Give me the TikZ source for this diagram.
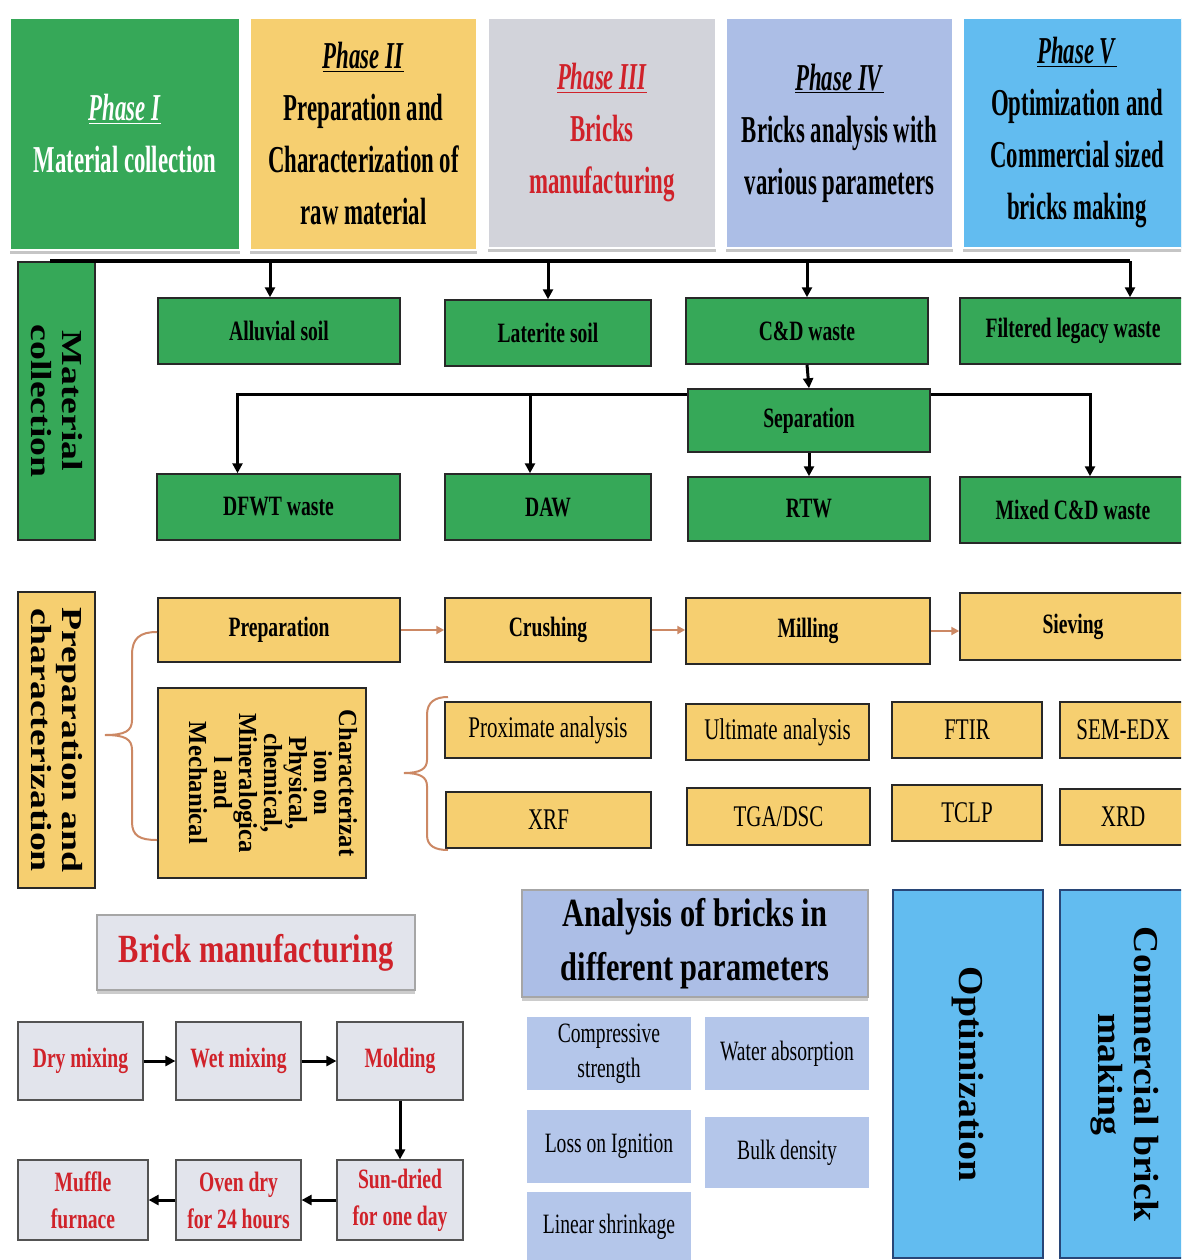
\documentclass[tikz,border=0pt]{standalone}
\usepackage{fontspec}
\setmainfont{Liberation Serif}
\newfontfamily\fntA[FakeStretch=0.6]{Liberation Serif}
\newfontfamily\fntB[FakeStretch=0.7]{Liberation Serif}
\newfontfamily\fntC[FakeStretch=0.76]{Liberation Serif}
\newfontfamily\rotA[FakeStretch=1.3]{Liberation Serif}
\newfontfamily\rotB[FakeStretch=1.08]{Liberation Serif}
\newfontfamily\rotC[FakeStretch=0.95]{Liberation Serif}
\usetikzlibrary{arrows.meta,shadows}
\definecolor{cGreen}{RGB}{54,168,88}
\definecolor{cYellow}{RGB}{246,207,112}
\definecolor{cGrey}{RGB}{210,211,218}
\definecolor{cLav}{RGB}{172,190,230}
\definecolor{cPar}{RGB}{180,198,234}
\definecolor{cSky}{RGB}{98,188,240}
\definecolor{cBrick}{RGB}{226,228,236}
\definecolor{cRed}{RGB}{208,34,42}
\definecolor{cEdge}{RGB}{40,40,40}
\definecolor{cOrange}{RGB}{204,136,100}
\definecolor{cDeep}{RGB}{40,70,120}
\tikzset{
 boxbase/.style={rectangle, inner sep=0pt, align=center},
 phase/.style={boxbase, draw=white, line width=2pt,
   drop shadow={shadow xshift=0pt, shadow yshift=-4pt, opacity=0.45},
   font=\fntA\bfseries\fontsize{38}{52}\selectfont},
 sidebox/.style={boxbase, rotate=-90, draw=cEdge, line width=1.2pt,
   font=\rotA\bfseries\fontsize{29}{31}\selectfont},
 gbox/.style={boxbase, fill=cGreen, draw=cEdge, line width=1.5pt,
   font=\fntB\bfseries\fontsize{28}{32}\selectfont},
 ybox/.style={boxbase, fill=cYellow, draw=cEdge, line width=1.5pt,
   font=\fntB\bfseries\fontsize{28}{32}\selectfont},
 yreg/.style={boxbase, fill=cYellow, draw=cEdge, line width=1.5pt,
   font=\fntB\fontsize{30}{34}\selectfont},
 brickbox/.style={boxbase, fill=cBrick, draw=cEdge!80, line width=1.2pt, text=cRed,
   font=\fntB\bfseries\fontsize{28}{37}\selectfont},
 parbox/.style={boxbase, fill=cPar,
   font=\fntB\fontsize{28}{35}\selectfont},
 bigv/.style={boxbase, rotate=-90, fill=cSky, draw=cDeep, line width=1.5pt,
   font=\rotB\bfseries\fontsize{35}{36}\selectfont},
 bline/.style={line width=3.5pt, black},
 barrow/.style={line width=3pt, black, -{Triangle[length=10pt,width=10pt]}},
 oarrow/.style={line width=2pt, cOrange, -{Triangle[length=8pt,width=8pt]}},
 bracestyle/.style={line width=2pt, cOrange},
}
\begin{document}
\begin{tikzpicture}[x=1pt,y=-1pt]
\clip (0,0) rectangle (1181,1260);
\fill[white] (0,0) rectangle (1181,1260);

% ---------------- Phase header boxes ----------------
\node[phase, fill=cGreen, text=white, minimum width=230, minimum height=232] (ph1) at (125,134)
  {\underline{\textit{Phase I}}\\Material collection};
\node[phase, fill=cYellow, minimum width=227, minimum height=232] (ph2) at (363.5,134)
  {\underline{\textit{Phase II}}\\Preparation and\\Characterization of\\raw material};
\node[phase, fill=cGrey, text=cRed, minimum width=228, minimum height=230] (ph3) at (602,133)
  {\underline{\textit{Phase III}}\\Bricks\\manufacturing};
\node[phase, fill=cLav, minimum width=227, minimum height=230] (ph4) at (839.5,133)
  {\underline{\textit{Phase IV}}\\Bricks analysis with\\various parameters};
\node[phase, fill=cSky, minimum width=228, minimum height=230] (ph5) at (1077,133)
  {\underline{\textit{Phase V}}\\Optimization and\\Commercial sized\\bricks making};

% ---------------- Material collection ----------------
\node[sidebox, fill=cGreen, minimum width=278, minimum height=77] (mc) at (56.5,401)
  {Material\\collection};

\node[gbox, minimum width=242, minimum height=66] (alluvial) at (279,331) {Alluvial soil};
\node[gbox, minimum width=206, minimum height=66] (laterite) at (548,333) {Laterite soil};
\node[gbox, minimum width=242, minimum height=66] (cdw) at (807,331) {C\&D waste};
\node[gbox, minimum width=226, minimum height=66] (filtered) at (1073,331) {Filtered legacy waste};
\node[gbox, minimum width=242, minimum height=63] (sep) at (809,420.5) {Separation};
\node[gbox, minimum width=243, minimum height=66] (dfwt) at (278.5,507) {DFWT waste};
\node[gbox, minimum width=206, minimum height=66] (daw) at (548,507) {DAW};
\node[gbox, minimum width=242, minimum height=64] (rtw) at (809,509) {RTW};
\node[gbox, minimum width=226, minimum height=66] (mixed) at (1073,510) {Mixed C\&D waste};

\coordinate (busL) at (50,261);
\coordinate (busR) at (1130,261);
\draw[bline] (busL) -- (busR);
\draw[barrow] ([xshift=-9pt]alluvial.north |- busL) -- ([xshift=-9pt]alluvial.north);
\draw[barrow] (laterite.north |- busL) -- (laterite.north);
\draw[barrow] (cdw.north |- busL) -- (cdw.north);
\draw[barrow] (busR) -- (busR |- filtered.north);
\draw[barrow] (cdw.south) -- (sep.north);
\coordinate (sbL) at ([yshift=-6pt]sep.north west);
\coordinate (sbR) at ([yshift=-6pt]sep.north east);
\draw[barrow] (sbL) -| ([xshift=-41pt]dfwt.north);
\draw[barrow] ([xshift=-18pt]daw.north |- sbL) -- ([xshift=-18pt]daw.north);
\draw[barrow] (sbR) -| ([xshift=17pt]mixed.north);
\draw[barrow] (sep.south) -- (rtw.north);

% ---------------- Preparation and characterization ----------------
\node[sidebox, fill=cYellow, minimum width=296, minimum height=77] (pc) at (56.5,740)
  {Preparation and\\characterization};

\node[ybox, minimum width=242, minimum height=64] (prep) at (279,630) {Preparation};
\node[ybox, minimum width=206, minimum height=64] (crush) at (548,630) {Crushing};
\node[ybox, minimum width=244, minimum height=66] (mill) at (808,631) {Milling};
\node[ybox, minimum width=226, minimum height=67] (sieve) at (1073,626.5) {Sieving};
\draw[oarrow] (prep.east) -- (crush.west |- prep.east);
\draw[oarrow] (crush.east) -- (mill.west |- crush.east);
\draw[oarrow] (mill.east) -- (sieve.west |- mill.east);

\node[boxbase, fill=cYellow, draw=cEdge, line width=1.5pt,
  minimum width=208, minimum height=190] (charbox) at (262,783) {};
\node[boxbase, rotate=-90, font=\rotC\bfseries\fontsize{26}{25}\selectfont] (charlbl)
  at ([xshift=11pt]charbox.center)
  {Characterizat\\ion on\\Physical,\\chemical,\\Mineralogica\\l and\\Mechanical};

\node[yreg, minimum width=206, minimum height=56] (prox) at (548,730) {Proximate analysis};
\node[yreg, minimum width=183, minimum height=56] (ult) at (777.5,732) {Ultimate analysis};
\node[yreg, minimum width=150, minimum height=56] (ftir) at (967,730) {FTIR};
\node[yreg, minimum width=126, minimum height=56] (sem) at (1123,730) {SEM-EDX};
\node[yreg, minimum width=205, minimum height=56] (xrf) at (548.5,820) {XRF};
\node[yreg, minimum width=183, minimum height=57] (tga) at (778.5,816.5) {TGA/DSC};
\node[yreg, minimum width=150, minimum height=56] (tclp) at (967,813) {TCLP};
\node[yreg, minimum width=126, minimum height=56] (xrd) at (1123,817) {XRD};

% braces
\draw[bracestyle] (157,632) .. controls (140,632) and (132,638) .. (132,655) -- (132,720)
  .. controls (132,731) and (125,735) .. (105,735)
  .. controls (125,735) and (132,739) .. (132,750) -- (132,822)
  .. controls (132,836) and (140,840) .. (157,840);
\draw[bracestyle] (448,697) .. controls (435,697) and (427,702) .. (427,715) -- (427,760)
  .. controls (427,769) and (420,773) .. (404,773)
  .. controls (420,773) and (427,777) .. (427,786) -- (427,835)
  .. controls (427,846) and (435,850) .. (448,850);

% ---------------- Brick manufacturing ----------------
\node[boxbase, fill=cBrick, draw=gray!70, line width=1.2pt, text=cRed,
  drop shadow={shadow xshift=0pt, shadow yshift=-4pt, opacity=0.4},
  minimum width=318, minimum height=75,
  font=\fntC\bfseries\fontsize{40}{48}\selectfont] (bmt) at (256,952.5) {Brick manufacturing};

\node[brickbox, minimum width=125, minimum height=78] (dry) at (80.5,1061) {Dry mixing};
\node[brickbox, minimum width=125, minimum height=78] (wet) at (238.5,1061) {Wet mixing};
\node[brickbox, minimum width=126, minimum height=78] (mold) at (400,1061) {Molding};
\node[brickbox, minimum width=130, minimum height=80] (muffle) at (83,1200) {Muffle\\furnace};
\node[brickbox, minimum width=125, minimum height=80] (oven) at (238.5,1200) {Oven dry\\for 24 hours};
\node[brickbox, minimum width=126, minimum height=80] (sun) at (400,1200) {Sun-dried\\for one day};
\draw[barrow] (dry) -- (wet);
\draw[barrow] (wet) -- (mold);
\draw[barrow] (mold) -- (sun);
\draw[barrow] (sun) -- (oven);
\draw[barrow] (oven) -- (muffle);

% ---------------- Analysis of bricks ----------------
\node[boxbase, fill=cLav, draw=gray!70, line width=1.2pt,
  drop shadow={shadow xshift=0pt, shadow yshift=-4pt, opacity=0.4},
  minimum width=346, minimum height=107,
  font=\fntC\bfseries\fontsize{40}{54}\selectfont] (abt) at (695,943.5)
  {Analysis of bricks in\\different parameters};

\node[parbox, minimum width=164, minimum height=73] (comp) at (609,1053.5) {Compressive\\strength};
\node[parbox, minimum width=164, minimum height=73] (water) at (787,1053.5) {Water absorption};
\node[parbox, minimum width=164, minimum height=73] (loi) at (609,1146.5) {Loss on Ignition};
\node[parbox, minimum width=164, minimum height=71] (bulk) at (787,1152.5) {Bulk density};
\node[parbox, minimum width=164, minimum height=70] (lin) at (609,1227) {Linear shrinkage};

\node[bigv, minimum width=368, minimum height=150] (opt) at (968,1074) {Optimization};
\node[bigv, minimum width=368, minimum height=130] (com) at (1125,1074) {Commercial brick\\making};
\end{tikzpicture}
\end{document}
